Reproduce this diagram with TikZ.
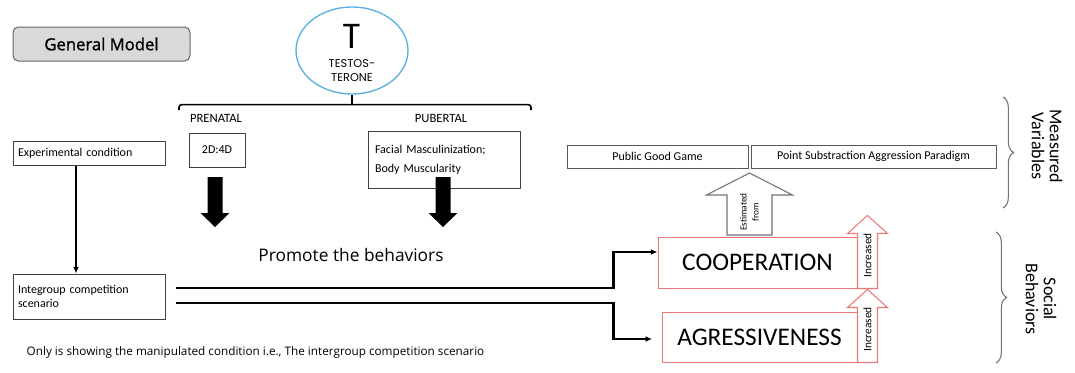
\documentclass[tikz,border=0pt]{standalone}
\usepackage{fontspec}
\setmainfont{Carlito}
\newfontfamily\opensans{Open Sans}
\newfontfamily\opensemi[FakeBold=1.2]{Open Sans}
\newfontfamily\geo{Poppins}
\usetikzlibrary{arrows.meta,decorations.pathreplacing,shapes.geometric}
\definecolor{tblue}{RGB}{90,175,224}
\definecolor{softred}{RGB}{240,120,120}
\definecolor{boxgray}{RGB}{217,217,217}

\begin{document}
\begin{tikzpicture}[x=0.75pt,y=-0.75pt,
    box/.style={draw=black!75,line width=0.75pt,inner sep=0pt,font=\fontsize{9}{10.5}\selectfont},
    redbox/.style={draw=softred,line width=0.75pt,inner sep=0pt,font=\fontsize{19}{20}\selectfont},
    stage/.style={font=\fontsize{9.5}{10}\selectfont},
    flow/.style={draw,line width=1.7pt,-{Latex[length=5pt,width=4.5pt]}},
    hollow/.style={line width=0.8pt,line join=miter},
    brace/.style={draw=black!55,line width=0.8pt,decorate,decoration={brace,amplitude=8pt}},
    side/.style={rotate=-90,align=center,font=\fontsize{13.5}{13.5}\selectfont}]

  \useasboundingbox (0,0) rectangle (1075,372);

  \node[box,draw=black!60,fill=boxgray,rounded corners=4pt,minimum width=132.75pt,minimum height=25.5pt,
        font=\opensemi\fontsize{12.5}{14}\selectfont] (model) at (101.5,44) {General Model};

  % hormone and its two periods
  \node[ellipse,draw=tblue,line width=1pt,minimum width=84pt,minimum height=65.25pt] (testo) at (352,50.5) {};
  \node[inner sep=0pt,font=\geo\fontsize{26}{26}\selectfont] (tletter) at (352,36) {T};
  \node[inner sep=0pt,align=center,font=\geo\fontsize{8.5}{10.5}\selectfont] (tname) at (352,71) {TESTOS-\\TERONE};
  \draw[line width=1.2pt] (testo.south) -- ++(0,10) coordinate (fork);
  \draw[line width=1.2pt,rounded corners=2pt] (179,110) |- (fork) -| (531,110);

  \node[stage] (prenatal) at (216,118) {PRENATAL};
  \node[stage] (pubertal) at (441,118) {PUBERTAL};

  \node[box,minimum width=114pt,minimum height=18pt,text width=106.5pt,align=left] (exper) at (89,153) {Experimental condition};
  \node[box,minimum width=42pt,minimum height=25.5pt] (twoD) at (217,150) {2D:4D};
  \node[box,minimum width=114pt,minimum height=42.75pt,text width=103.5pt,align=left,
        font=\fontsize{9}{14}\selectfont] (facial) at (444,159.5) {Facial Masculinization;\\Body Muscularity};

  \foreach \ax in {215,443}
    \fill (\ax-7.5,177) -- (\ax+7.5,177) -- (\ax+7.5,213) -- (\ax+14.5,213) -- (\ax,227)
          -- (\ax-14.5,213) -- (\ax-7.5,213) -- cycle;

  \node[font=\opensans\fontsize{13}{14}\selectfont] (promote) at (351,255) {Promote the behaviors};

  \node[box,minimum width=114pt,minimum height=33.75pt,text width=106.5pt,align=left] (integ) at (89,296.5) {Integroup competition\\scenario};
  \draw[flow,line width=1.5pt] ([xshift=-9.75pt]exper.south) -- ([xshift=-9.75pt]integ.north);

  % measures
  \node[box,draw=black!65,minimum width=135.75pt,minimum height=17.25pt] (pubgood) at (657.5,156.5) {Public Good Game};
  \node[box,draw=black!65,minimum width=183.75pt,minimum height=17.25pt] (pointsub) at (873.5,156.5) {Point Substraction Aggression Paradigm};

  \node[redbox,minimum width=149.25pt,minimum height=38.25pt] (coop) at (757.5,262.5) {COOPERATION};
  \node[redbox,minimum width=146.25pt,minimum height=37.5pt] (aggr) at (759.5,337) {AGRESSIVENESS};

  \draw[flow] ([xshift=7.5pt,yshift=6.375pt]integ.east) -- ++(438,0) |- ([yshift=7.875pt]coop.west);
  \draw[flow,shorten >=7pt] ([xshift=7.5pt,yshift=-4.875pt]integ.east) -- ++(438,0) |- ([yshift=-1.5pt]aggr.west);

  \coordinate (est) at (749.5,235);
  \draw[hollow,draw=black!55] (est) ++(-22.5,0) -- ++(0,-40) -- ++(-20.5,0) -- ++(43,-22) -- ++(43,22)
        -- ++(-20.5,0) -- ++(0,40) -- cycle;
  \node[rotate=90,align=center,font=\fontsize{7}{9}\selectfont] (estlabel) at (749.5,212) {Estimated\\from};

  \foreach \b in {coop,aggr} {
    \draw[hollow,draw=softred] (\b.south east) -- ++(0,-55) -- ++(-10,0) -- ++(20,-18) -- ++(20,18)
          -- ++(-10,0) -- ++(0,55) -- cycle;
    \node[rotate=90,font=\fontsize{8.5}{9}\selectfont] (inc\b) at ([xshift=7.5pt,yshift=24.75pt]\b.south east) {Increased};
  }

  \draw[brace] (1003,97) -- (1003,208);
  \draw[brace] (996,232) -- (996,363);
  \node[side] (measured) at (1047,146) {Measured\\Variables};
  \node[side] (social) at (1041,299) {Social\\Behaviors};

  \node[anchor=west,font=\opensans\fontsize{8.8}{10}\selectfont] (note) at (22,352)
       {Only is showing the manipulated condition i.e., The intergroup competition\ scenario};
\end{tikzpicture}
\end{document}
